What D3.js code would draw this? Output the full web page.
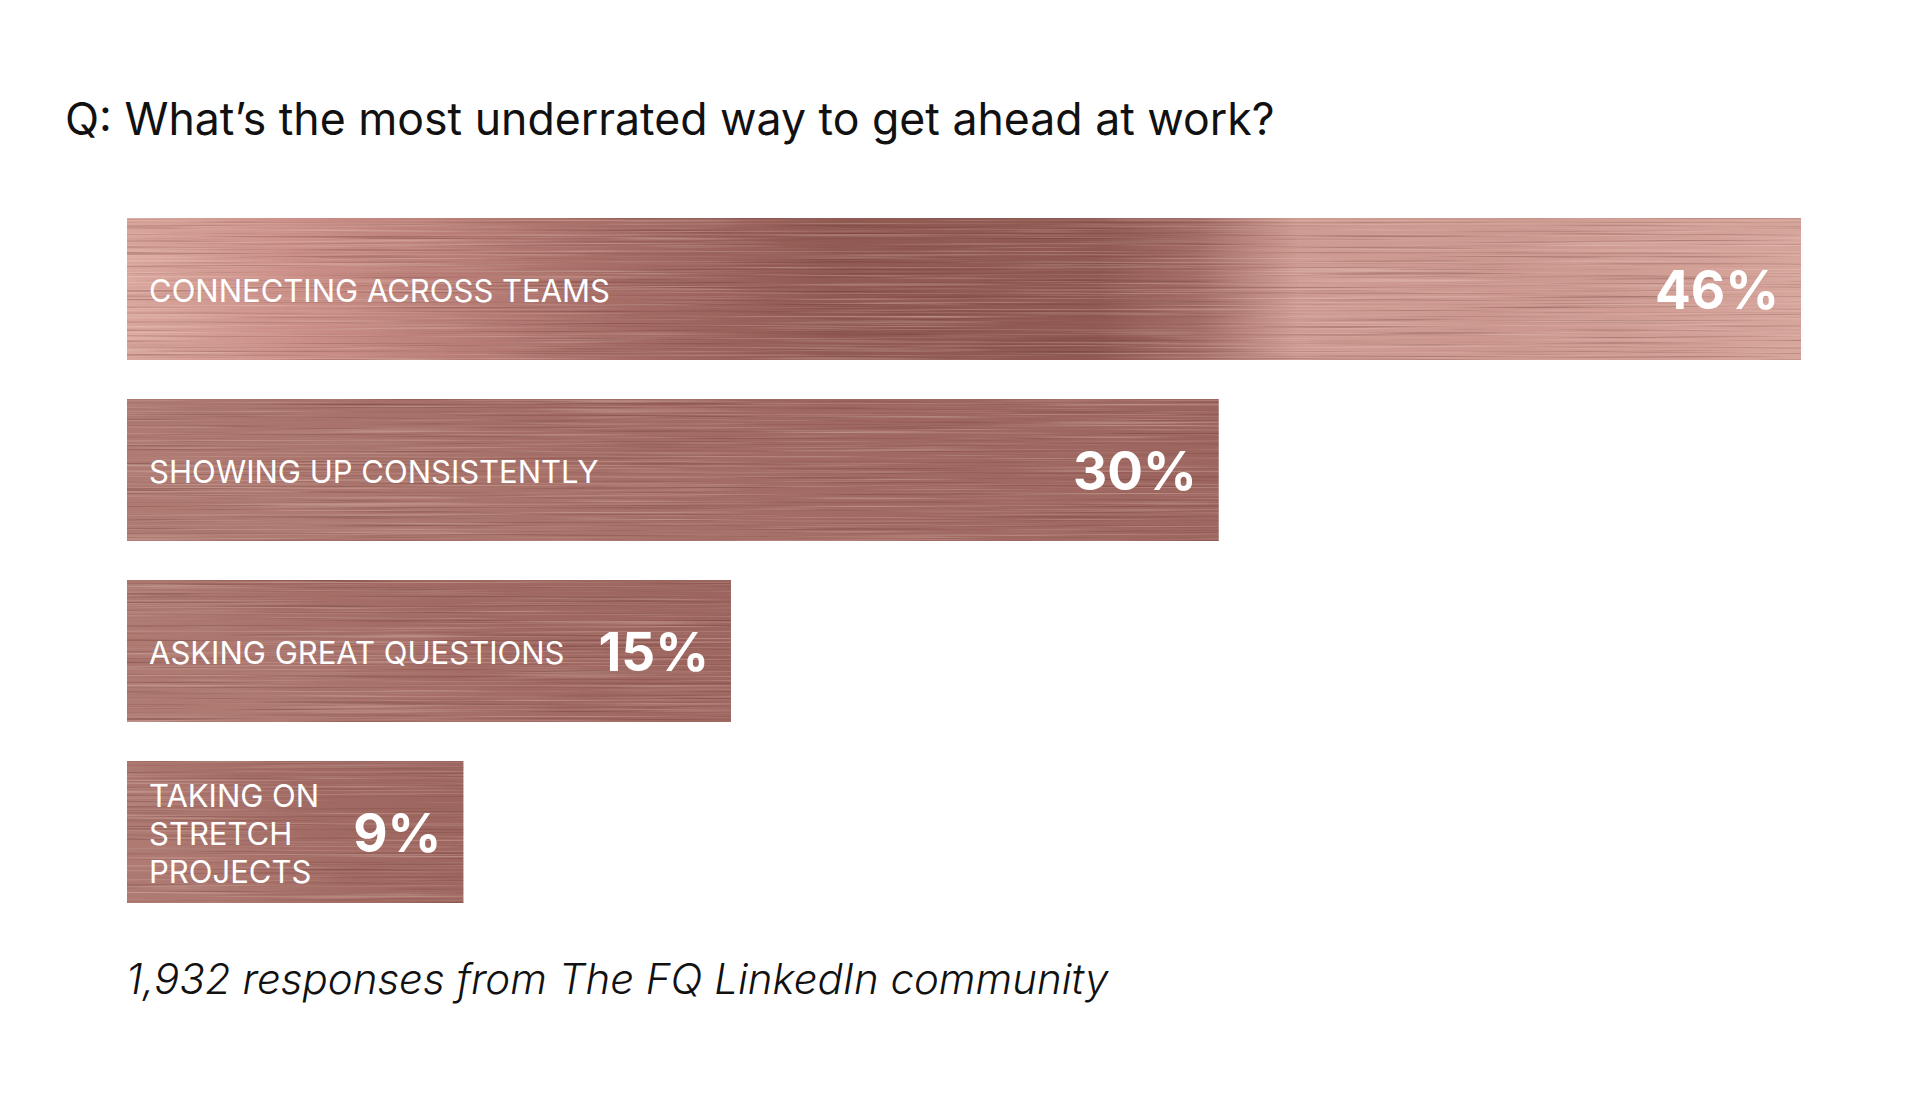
<!DOCTYPE html>
<html>
<head>
<meta charset="utf-8">
<script src="https://cdn.jsdelivr.net/npm/d3@7"></script>
<style>
  html, body { margin: 0; padding: 0; background: #ffffff; }
  svg { display: block; }
</style>
</head>
<body>
<svg id="chart" width="1920" height="1095"></svg>
<script>
// ---- data ----
const title = "Q: What\u2019s the most underrated way to get ahead at work?";
const categories = [
  "CONNECTING ACROSS TEAMS",
  "SHOWING UP CONSISTENTLY",
  "ASKING GREAT QUESTIONS",
  "TAKING ON\nSTRETCH\nPROJECTS"
];
const values = [46, 30, 15, 9];
const valueLabels = ["46%", "30%", "15%", "9%"];
const footnote = "1,932 responses from The FQ LinkedIn community";

// ---- layout ----
const barLeft = 127, barRight = 1801;
const padL = 22, padR = 22, gap = 34;
const svg = d3.select("#chart");
const defs = svg.append("defs");

// gradients (rose-gold)
const g1 = defs.append("linearGradient").attr("id", "grad0").attr("x1", "0").attr("x2", "1").attr("y1", "0").attr("y2", "0");
[[0, "#d9a69c"], [0.10, "#cb9088"], [0.28, "#a86f68"], [0.42, "#915a53"], [0.58, "#905a53"],
 [0.64, "#a46e67"], [0.70, "#cf9c93"], [0.82, "#cb978e"], [1, "#d6a59b"]]
  .forEach(([o, c]) => g1.append("stop").attr("offset", o).attr("stop-color", c));
const g2 = defs.append("linearGradient").attr("id", "gradN").attr("x1", "0").attr("x2", "1").attr("y1", "0.3").attr("y2", "0");
[[0, "#ae7a72"], [0.5, "#a16a63"], [1, "#9c645e"]]
  .forEach(([o, c]) => g2.append("stop").attr("offset", o).attr("stop-color", c));

// brushed-metal texture filter
const f = defs.append("filter").attr("id", "brushed")
  .attr("x", "0%").attr("y", "0%").attr("width", "100%").attr("height", "100%")
  .attr("color-interpolation-filters", "sRGB");
f.append("feTurbulence").attr("type", "fractalNoise").attr("baseFrequency", "0.004 0.55")
  .attr("numOctaves", 3).attr("seed", 7).attr("result", "n");
f.append("feColorMatrix").attr("in", "n").attr("type", "matrix")
  .attr("values", "0 0 0 0 1  0 0 0 0 0.92  0 0 0 0 0.88  0 0 0.8 0 -0.4").attr("result", "hi");
f.append("feColorMatrix").attr("in", "n").attr("type", "matrix")
  .attr("values", "0 0 0 0 0.3  0 0 0 0 0.12  0 0 0 0 0.1  -0.9 0 0 0 0.42").attr("result", "lo");
f.append("feComposite").attr("in", "hi").attr("in2", "SourceGraphic").attr("operator", "in").attr("result", "hic");
f.append("feComposite").attr("in", "lo").attr("in2", "SourceGraphic").attr("operator", "in").attr("result", "loc");
const fm = f.append("feMerge");
fm.append("feMergeNode").attr("in", "SourceGraphic");
fm.append("feMergeNode").attr("in", "loc");
fm.append("feMergeNode").attr("in", "hic");

// scales
const x = d3.scaleLinear().domain([0, d3.max(values)]).range([0, barRight - barLeft]);
const y = d3.scaleBand().domain(categories).range([218, 903]).paddingInner(0.2155).paddingOuter(0);

// title
svg.append("text")
  .attr("x", 65).attr("y", 135)
  .attr("font-family", "Inter, 'Noto Sans', sans-serif")
  .attr("font-size", 44.6).attr("font-weight", 400).attr("fill", "#111111")
  .text(title);

const labelFont = 31, valueFont = 53, lineH = 38;
const row = svg.append("g").selectAll("g.row")
  .data(categories.map((c, i) => ({ c, v: values[i], lab: valueLabels[i], i })))
  .join("g").attr("class", "row");

// bars (width set after measuring text)
const bars = row.append("rect")
  .attr("x", barLeft).attr("y", d => y(d.c)).attr("height", y.bandwidth())
  .attr("fill", d => d.i === 0 ? "url(#grad0)" : "url(#gradN)")
  .attr("filter", "url(#brushed)");

// category labels
const cat = row.append("text")
  .attr("class", "cat")
  .attr("x", barLeft + padL)
  .attr("font-family", "Inter, 'Noto Sans', sans-serif")
  .attr("font-size", labelFont).attr("fill", "#ffffff");
cat.each(function (d) {
  const lines = d.c.split("\n");
  const cy = y(d.c) + y.bandwidth() / 2 + 2;
  const first = cy - (lines.length - 1) * lineH / 2;
  d3.select(this).selectAll("tspan").data(lines).join("tspan")
    .attr("x", barLeft + padL)
    .attr("y", (l, j) => first + j * lineH + labelFont * 0.364)
    .text(l => l);
});

// value labels
const val = row.append("text")
  .attr("class", "val")
  .attr("font-family", "Inter, 'Noto Sans', sans-serif")
  .attr("font-size", valueFont).attr("font-weight", 700).attr("fill", "#ffffff")
  .attr("text-anchor", "end")
  .attr("y", d => y(d.c) + y.bandwidth() / 2 + 1 + valueFont * 0.364)
  .text(d => d.lab);

// bar width: value-scaled, with a minimum so both labels fit inside
row.each(function (d) {
  const g = d3.select(this);
  const lw = g.select("text.cat").node().getBBox().width;
  const vw = g.select("text.val").node().getComputedTextLength();
  d.w = Math.max(x(d.v), padL + lw + gap + vw + padR);
});
bars.attr("width", d => d.w);
val.attr("x", d => barLeft + d.w - padR);

// footnote
svg.append("text")
  .attr("x", 126).attr("y", 994)
  .attr("font-family", "Inter, 'Noto Sans', sans-serif")
  .attr("font-size", 42).attr("font-weight", 300).attr("font-style", "italic").attr("fill", "#111111")
  .text(footnote);
</script>
</body>
</html>
